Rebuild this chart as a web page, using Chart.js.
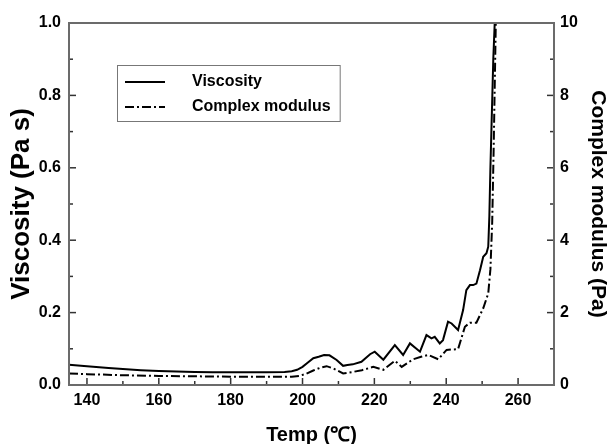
<!DOCTYPE html>
<html><head><meta charset="utf-8">
<script src="https://cdn.jsdelivr.net/npm/chart.js@4"></script>
<style>html,body{margin:0;padding:0;background:#fff;} #wrap{width:607px;height:444px;position:relative;}</style>
</head><body><div id="wrap"><canvas id="c"></canvas></div>
<script>
// ---- data ----
const viscTemp = [135,140,146,150,155,160,165,170,175,180,185,190,195,197,198.5,200,201.5,203,204.5,206,207.5,209.5,211.3,212.5,214,216.4,218.8,220.1,222.5,225.7,228,229.9,232.7,234.5,235.9,236.8,238.2,239.1,240.5,241.5,243.3,244.7,245.6,246.6,247.5,248.4,249.4,250.3,251.2,251.7,252.0,252.3,252.7,253.1,253.5];
const viscVals = [0.056,0.052,0.047,0.044,0.041,0.039,0.037,0.036,0.035,0.035,0.035,0.035,0.036,0.038,0.042,0.05,0.062,0.074,0.078,0.083,0.082,0.069,0.053,0.055,0.057,0.064,0.085,0.092,0.07,0.11,0.083,0.115,0.092,0.138,0.129,0.133,0.115,0.124,0.175,0.17,0.152,0.207,0.262,0.276,0.276,0.28,0.317,0.354,0.364,0.382,0.465,0.6,0.75,0.9,1.0];
const modTemp = [135,140,150,160,170,180,190,197,199,201,203,205,206.7,208.5,211.3,214,216.5,219.7,222.5,225.7,227.6,230.8,233,235,237.8,240.1,243.3,245.2,246.6,248.4,250.3,251.7,252.3,252.8,253.2,253.8];
const modVals = [0.32,0.30,0.27,0.25,0.24,0.23,0.23,0.23,0.25,0.31,0.40,0.48,0.52,0.46,0.32,0.36,0.41,0.50,0.42,0.67,0.50,0.71,0.78,0.83,0.71,0.97,0.99,1.61,1.72,1.72,2.12,2.53,3.2,4.5,6.5,10];
const seriesNames = ['Viscosity','Complex modulus'];
const xTickValues = [140,150,160,170,180,190,200,210,220,230,240,250,260,270];
const xTickLabels = [140,160,180,200,220,240,260];
const yLeftTickLabels = ['0.0','0.2','0.4','0.6','0.8','1.0'];
const yRightTickLabels = [0,2,4,6,8,10];
const xTitle = 'Temp (\u2103)';
const yLeftTitle = 'Viscosity (Pa s)';
const yRightTitle = 'Complex modulus (Pa)';

const FONT = "'Liberation Sans', Arial, Helvetica, sans-serif";
const near = (a,b) => Math.abs(a-b) < 1e-6;

const frameTicks = {
  id: 'frameTicks',
  afterDatasetsDraw(chart) {
    const {ctx, chartArea: a, scales} = chart;
    ctx.save();
    ctx.strokeStyle = '#333';
    ctx.lineWidth = 1.5;
    const line = (x1,y1,x2,y2) => { ctx.beginPath(); ctx.moveTo(x1,y1); ctx.lineTo(x2,y2); ctx.stroke(); };
    const sx = scales.x;
    sx.ticks.forEach(t => {
      if (t.value <= sx.min || t.value >= sx.max) return;
      const px = sx.getPixelForValue(t.value);
      const len = xTickLabels.some(v => near(v, t.value)) ? 7 : 4;
      line(px, a.bottom, px, a.bottom - len);
    });
    const sl = scales.y;
    sl.ticks.forEach(t => {
      if (t.value <= sl.min || t.value >= sl.max) return;
      const py = sl.getPixelForValue(t.value);
      const len = yLeftTickLabels.some(v => near(parseFloat(v), t.value)) ? 7 : 4;
      line(a.left, py, a.left + len, py);
    });
    const sr = scales.y2;
    sr.ticks.forEach(t => {
      if (t.value <= sr.min || t.value >= sr.max) return;
      const py = sr.getPixelForValue(t.value);
      const len = yRightTickLabels.some(v => near(v, t.value)) ? 7 : 4;
      line(a.right, py, a.right - len, py);
    });
    ctx.strokeStyle = '#6b6b6b';
    ctx.lineWidth = 2;
    ctx.strokeRect(a.left, a.top, a.right - a.left, a.bottom - a.top);
    ctx.restore();
  }
};

const boxLegend = {
  id: 'boxLegend',
  afterDraw(chart) {
    const ctx = chart.ctx;
    const ds = chart.data.datasets;
    const left = 117, top = 65, rowH = 25, lineX1 = 125, lineX2 = 165, textX = 192;
    ctx.save();
    ctx.font = "bold 16px " + FONT;
    let maxW = 0;
    ds.forEach(d => { maxW = Math.max(maxW, ctx.measureText(d.label).width); });
    const right = textX + maxW + 9;
    ctx.strokeStyle = '#777';
    ctx.lineWidth = 1;
    ctx.strokeRect(left + 0.5, top + 0.5, right - left, 56);
    ds.forEach((d, i) => {
      const y = top + 17 + i * rowH;
      ctx.strokeStyle = d.borderColor;
      ctx.lineWidth = d.borderWidth;
      ctx.setLineDash(d.borderDash || []);
      ctx.beginPath(); ctx.moveTo(lineX1, y); ctx.lineTo(lineX2, y); ctx.stroke();
      ctx.setLineDash([]);
      ctx.fillStyle = '#000';
      ctx.textBaseline = 'middle';
      ctx.textAlign = 'left';
      ctx.fillText(d.label, textX, y);
    });
    ctx.restore();
  }
};

const tickFont = {family: FONT, size: 16, weight: 'bold'};

new Chart(document.getElementById('c'), {
  type: 'scatter',
  data: {
    datasets: [
      {label: seriesNames[0], data: viscTemp.map((t,i)=>({x:t, y:viscVals[i]})), yAxisID: 'y',
       showLine: true, pointRadius: 0, borderColor: '#000', borderWidth: 2, tension: 0},
      {label: seriesNames[1], data: modTemp.map((t,i)=>({x:t, y:modVals[i]})), yAxisID: 'y2',
       showLine: true, pointRadius: 0, borderColor: '#000', borderWidth: 2, borderDash: [9,3,2,3], tension: 0}
    ]
  },
  options: {
    responsive: true, maintainAspectRatio: false, animation: false,
    devicePixelRatio: 1,
    layout: {padding: {top: 23, left: 0, right: 0, bottom: 0}},
    plugins: {legend: {display: false}, tooltip: {enabled: false}},
    scales: {
      x: {
        type: 'linear', position: 'bottom', min: 135, max: 270,
        afterBuildTicks: s => { s.ticks = xTickValues.map(v => ({value: v})); },
        afterFit: s => { s.height = 59; },
        grid: {display: false, drawTicks: false},
        border: {display: false},
        ticks: {autoSkip: false, maxRotation: 0, padding: 6, color: '#000', font: tickFont,
          callback: v => xTickLabels.some(l => near(l, v)) ? String(v) : ''},
        title: {display: true, text: xTitle, color: '#000', padding: {top: 0, bottom: -1},
          font: {family: FONT, size: 20, weight: 'bold', lineHeight: 1}}
      },
      y: {
        type: 'linear', position: 'left', min: 0, max: 1,
        ticks: {stepSize: 0.1, autoSkip: false, padding: 8, color: '#000', font: tickFont,
          callback: v => { const l = yLeftTickLabels.find(s => near(parseFloat(s), v)); return l || ''; }},
        afterFit: s => { s.width = 69; },
        grid: {display: false, drawTicks: false},
        border: {display: false},
        title: {display: true, text: yLeftTitle, color: '#000', padding: {top: 9, bottom: 0},
          font: {family: FONT, size: 26, weight: 'bold', lineHeight: 1}}
      },
      y2: {
        type: 'linear', position: 'right', min: 0, max: 10,
        ticks: {stepSize: 1, autoSkip: false, padding: 6, color: '#000', font: tickFont,
          callback: v => yRightTickLabels.some(l => near(l, v)) ? String(v) : ''},
        afterFit: s => { s.width = 53; },
        grid: {display: false, drawTicks: false},
        border: {display: false},
        title: {display: true, text: yRightTitle, color: '#000', padding: {top: -1, bottom: 0},
          font: {family: FONT, size: 21, weight: 'bold', lineHeight: 1}}
      }
    }
  },
  plugins: [frameTicks, boxLegend]
});
</script>
</body></html>
